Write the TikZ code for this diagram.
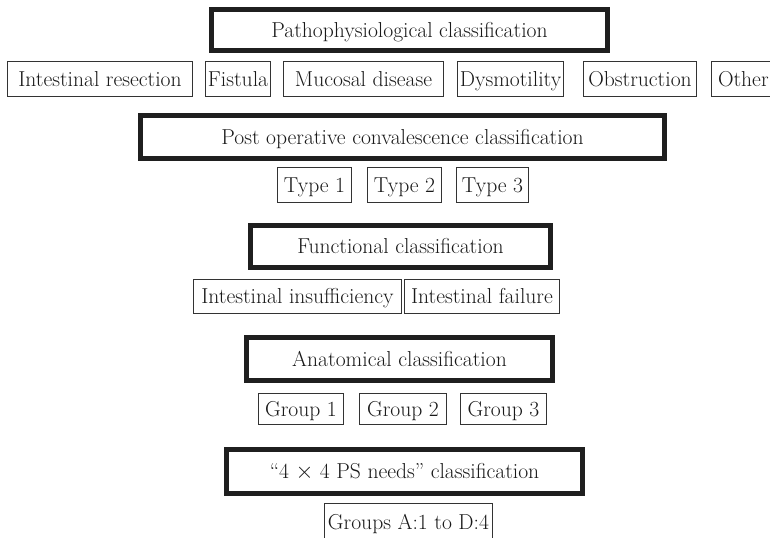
\documentclass[tikz,border=0pt]{standalone}
\begin{document}
\begin{tikzpicture}[x=0.75pt,y=-0.75pt,
  txt/.style={inner sep=0pt, text=black!90, font=\fontsize{16.2}{19}\selectfont,
    text height=11pt, text depth=0pt},
  head/.style={txt, draw=black!88, line width=3.75pt},
  item/.style={txt, draw=black!80, line width=0.9pt},
  sz/.style 2 args={minimum width=#1*0.75pt, minimum height=#2*0.75pt}]
\useasboundingbox (0,0) rectangle (770,537);
\clip (0,0) rectangle (770,537);

% Pathophysiological level
\node[head, sz={396}{41}] (patho) at (409.5,30) {Pathophysiological classification};
\node[item, sz={184.8}{34.8}] (resec) at (100,79) {Intestinal resection};
\node[item, sz={64.8}{34.8}] (fist) at (238,79) {Fistula};
\node[item, sz={159.8}{34.8}] (muco) at (363.5,79) {Mucosal disease};
\node[item, sz={105.8}{34.8}] (dysm) at (510.5,79) {Dysmotility};
\node[item, sz={112.8}{34.8}] (obst) at (640,79) {Obstruction};
\node[item, sz={76.8}{34.8}, text width=76*0.75pt, align=left] (other) at (750,79) {\hspace*{4.5pt}Other};

% Post operative convalescence level
\node[head, sz={524}{43}] (postop) at (402.5,137) {Post operative convalescence classification};
\node[item, sz={73.8}{34.8}] (t1) at (314.5,185) {Type 1};
\node[item, sz={73.8}{34.8}] (t2) at (404.5,185) {Type 2};
\node[item, sz={71.8}{34.8}] (t3) at (492.5,185) {Type 3};

% Functional level
\node[head, sz={300}{42}] (func) at (400.5,246.5) {Functional classification};
\node[item, sz={207.8}{33.8}] (insuf) at (297.5,296.5) {Intestinal insufficiency};
\node[item, sz={154.8}{33.8}] (fail) at (482,296.5) {Intestinal failure};

% Anatomical level
\node[head, sz={306}{43}] (anat) at (399.5,359) {Anatomical classification};
\node[item, sz={84.8}{30.8}] (g1) at (301,409) {Group 1};
\node[item, sz={86.8}{30.8}] (g2) at (403,409) {Group 2};
\node[item, sz={85.8}{30.8}] (g3) at (503.5,409) {Group 3};

% "4 x 4 PS needs" level
\node[head, sz={356}{44}] (needs) at (404.5,471.5) {``4 ${\times}$ 4 PS needs'' classification};
\node[item, sz={167.8}{36.8}] (groups) at (408.5,522) {Groups A:1 to D:4};
\end{tikzpicture}
\end{document}
